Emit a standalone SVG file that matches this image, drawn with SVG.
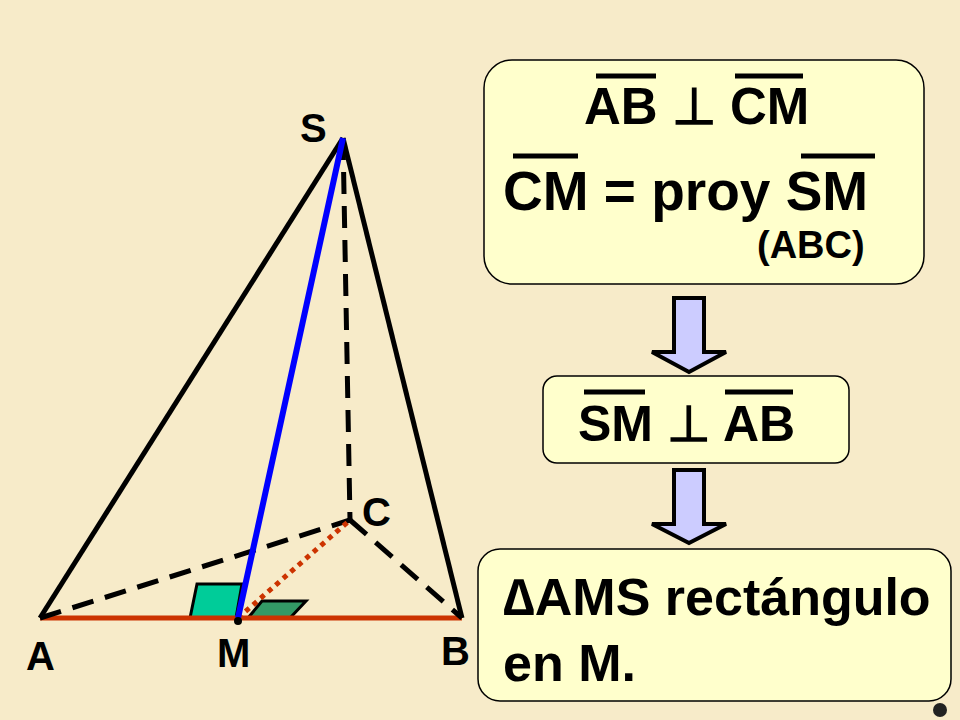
<svg xmlns="http://www.w3.org/2000/svg" width="960" height="720" viewBox="0 0 960 720">
<defs><style>
.t{font-family:"Liberation Sans",Arial,sans-serif;font-weight:bold;fill:#000}
.box{fill:#ffffcc;stroke:#000;stroke-width:1.5}
.ol{stroke:#000;stroke-width:5}
.arr{fill:#ccccff;stroke:#000;stroke-width:4;stroke-linejoin:miter}
</style></defs>
<rect width="960" height="720" fill="#f7ebc9"/>
<g id="plane-marks">
<polygon points="190,618 197,584 242,584 236,618" fill="#00cc99" stroke="#000" stroke-width="3"/>
<polygon points="248,618 262,601 306,601 290,618" fill="#339966" stroke="#000" stroke-width="3"/>
</g>
<g id="connectors" fill="none" stroke-width="5">
<line x1="40" y1="618" x2="462" y2="618" stroke="#cc3300"/>
<line x1="343" y1="138" x2="40" y2="618" stroke="#000"/>
<line x1="343" y1="138" x2="462" y2="618" stroke="#000"/>
<line x1="343" y1="138" x2="350" y2="520" stroke="#000" stroke-dasharray="22,12"/>
<line x1="40" y1="618" x2="350" y2="520" stroke="#000" stroke-dasharray="22,12"/>
<line x1="350" y1="520" x2="462" y2="618" stroke="#000" stroke-dasharray="22,12"/>
<line x1="238" y1="618" x2="350" y2="520" stroke="#cc3300" stroke-dasharray="5,5"/>
<line x1="343" y1="138" x2="238" y2="618" stroke="#0000ff" stroke-width="6"/>
<circle cx="238" cy="621" r="4" fill="#000" stroke="none"/>
</g>
<g id="labels">
<text class="t" x="300" y="142" font-size="40">S</text>
<text class="t" x="362" y="526" font-size="40">C</text>
<text class="t" x="26" y="670" font-size="40">A</text>
<text class="t" x="217" y="667" font-size="40">M</text>
<text class="t" x="441" y="665" font-size="40">B</text>
</g>
<g id="box1">
<rect class="box" x="484" y="60" width="440" height="224" rx="28"/>
<text class="t" x="584" y="124" font-size="51">AB ⊥ CM</text>
<line class="ol" x1="596" y1="76" x2="656" y2="76"/>
<line class="ol" x1="735" y1="76" x2="803" y2="76"/>
<text class="t" x="503" y="210" font-size="55">CM = proy SM</text>
<line class="ol" x1="513" y1="156" x2="578" y2="156"/>
<line class="ol" x1="801" y1="156" x2="875" y2="156"/>
<text class="t" x="757" y="258" font-size="38">(ABC)</text>
</g>
<g id="arrow1"><polygon class="arr" points="674,298 704,298 704,352 726,352 689,372 652,352 674,352"/></g>
<g id="box2">
<rect class="box" x="543" y="376" width="306" height="87" rx="14"/>
<text class="t" x="578" y="441" font-size="50">SM ⊥ AB</text>
<line class="ol" x1="584" y1="392" x2="645" y2="392"/>
<line class="ol" x1="725" y1="392" x2="793" y2="392"/>
</g>
<g id="arrow2"><polygon class="arr" points="674,470 704,470 704,524 726,524 689,543 652,524 674,524"/></g>
<g id="box3">
<rect class="box" x="478" y="549" width="473" height="152" rx="22"/>
<text class="t" x="503" y="615" font-size="52">∆AMS rectángulo</text>
<text class="t" x="503" y="681" font-size="52">en M.</text>
</g>
<circle cx="940" cy="710" r="7" fill="#222"/>
</svg>
